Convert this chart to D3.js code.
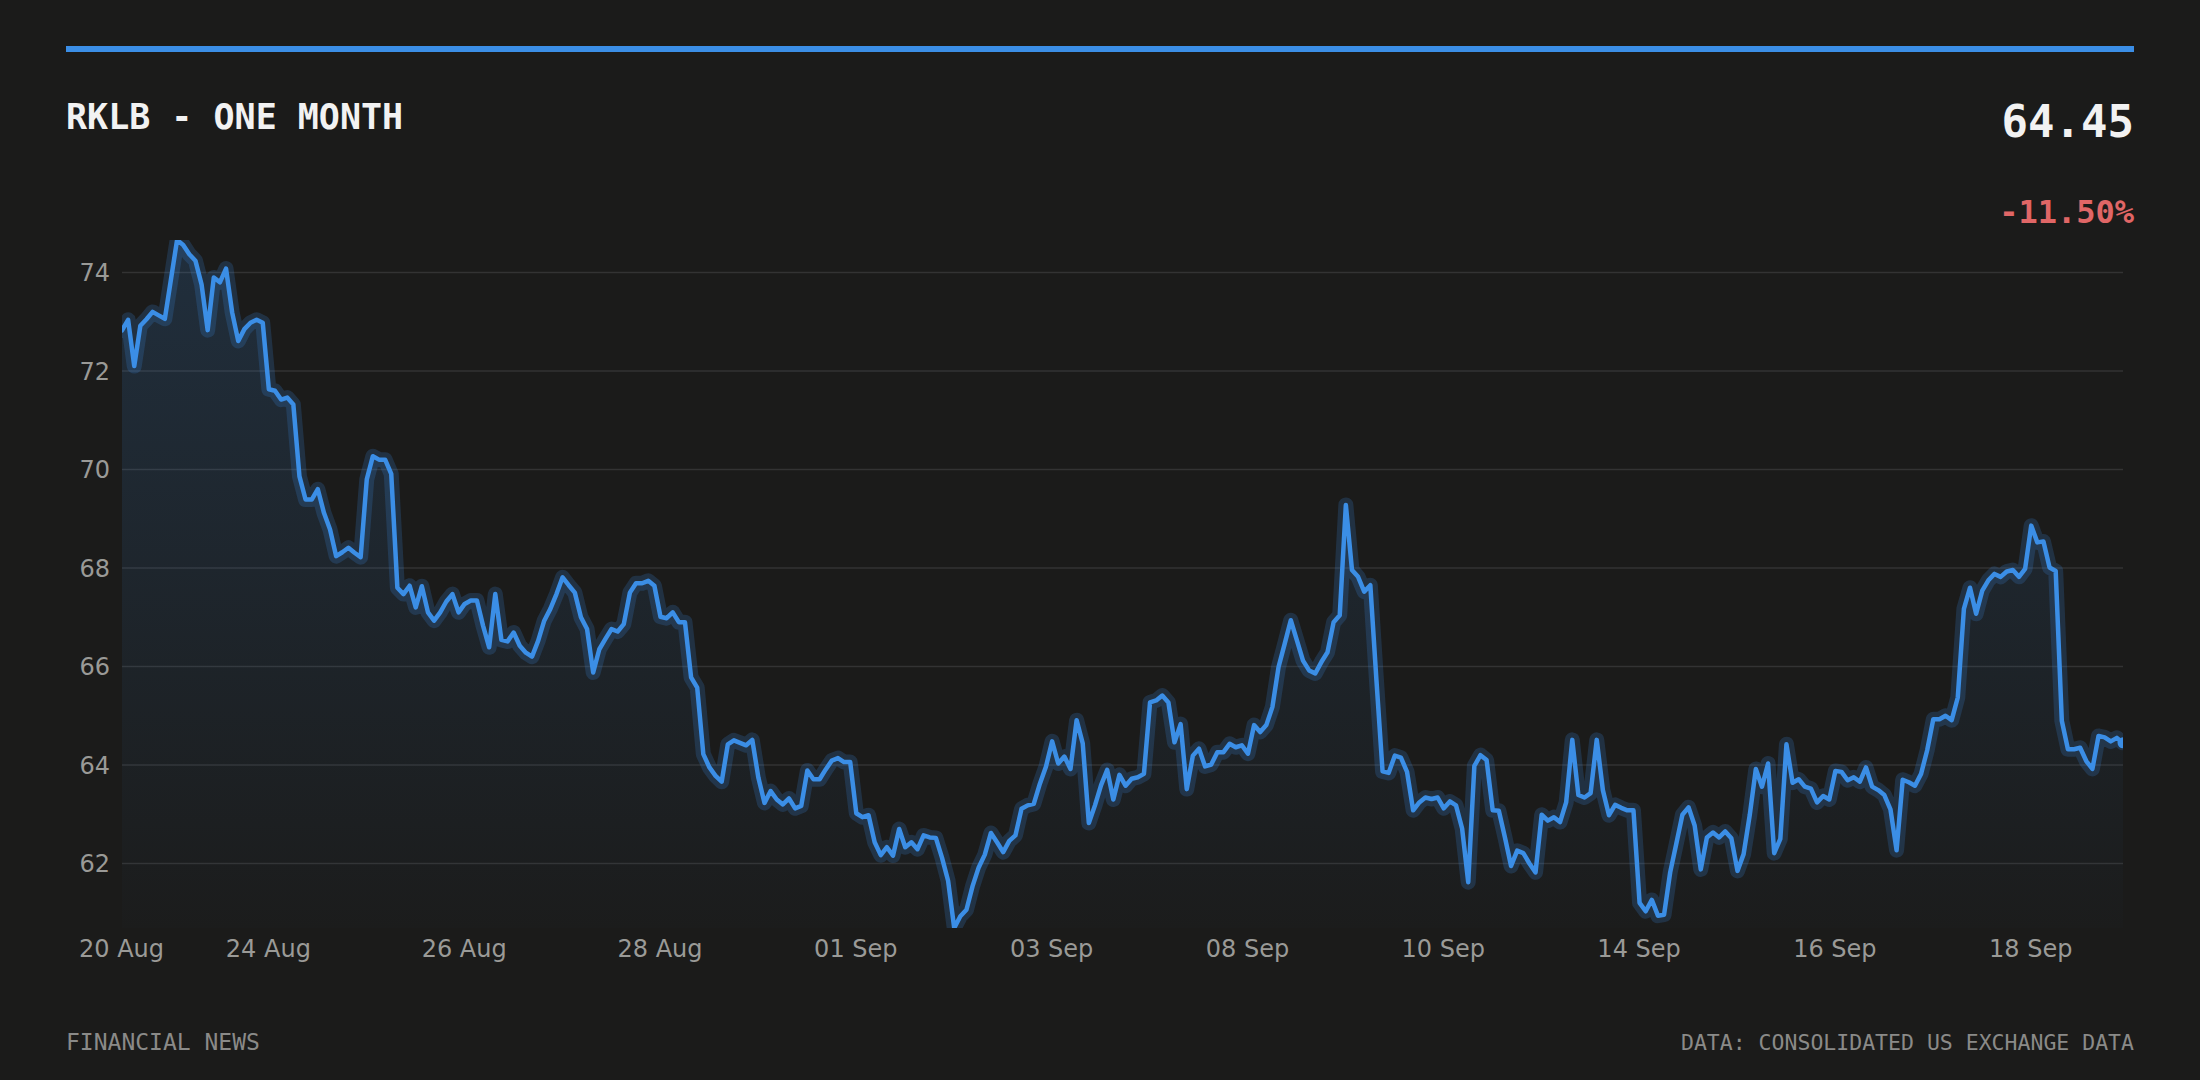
<!DOCTYPE html>
<html>
<head>
<meta charset="utf-8">
<script src="https://cdn.jsdelivr.net/npm/d3@7"></script>
<style>
  html, body { margin: 0; padding: 0; background: #1b1b1a; }
  svg { display: block; }
</style>
</head>
<body>
<svg id="chart" width="2200" height="1080"></svg>
<script>
// RKLB one-month intraday closes, one value per bar
const prices = [
  72.825, 73.04, 72.10, 72.92, 73.05, 73.20, 73.13, 73.06, 73.86, 74.66,
  74.56, 74.37, 74.24, 73.76, 72.83, 73.90, 73.80, 74.08, 73.19, 72.61,
  72.85, 72.98, 73.04, 72.98, 71.63, 71.60, 71.42, 71.46, 71.32, 69.86,
  69.39, 69.39, 69.60, 69.12, 68.78, 68.24, 68.32, 68.41, 68.31, 68.22,
  69.80, 70.27, 70.20, 70.20, 69.91, 67.60, 67.47, 67.64, 67.20, 67.63,
  67.10, 66.93, 67.10, 67.32, 67.47, 67.10, 67.27, 67.34, 67.34, 66.83,
  66.39, 67.47, 66.54, 66.51, 66.69, 66.42, 66.28, 66.20, 66.52, 66.93,
  67.17, 67.47, 67.81, 67.65, 67.50, 67.00, 66.76, 65.88, 66.35, 66.56,
  66.76, 66.71, 66.86, 67.50, 67.69, 67.69, 67.74, 67.64, 67.01, 66.98,
  67.10, 66.90, 66.90, 65.78, 65.57, 64.22, 63.95, 63.78, 63.66, 64.42,
  64.50, 64.45, 64.40, 64.51, 63.74, 63.23, 63.47, 63.30, 63.20, 63.32,
  63.12, 63.17, 63.89, 63.71, 63.71, 63.91, 64.09, 64.14, 64.06, 64.06,
  63.02, 62.94, 62.98, 62.43, 62.17, 62.33, 62.16, 62.70, 62.33, 62.43,
  62.29, 62.57, 62.53, 62.52, 62.12, 61.65, 60.69, 60.93, 61.06, 61.54,
  61.92, 62.18, 62.62, 62.43, 62.23, 62.46, 62.57, 63.11, 63.18, 63.21,
  63.62, 63.97, 64.48, 64.03, 64.17, 63.92, 64.91, 64.44, 62.82, 63.18,
  63.59, 63.90, 63.30, 63.80, 63.58, 63.72, 63.75, 63.82, 65.27, 65.31,
  65.41, 65.27, 64.46, 64.83, 63.51, 64.19, 64.33, 63.97, 64.01, 64.26,
  64.26, 64.43, 64.36, 64.40, 64.23, 64.81, 64.67, 64.81, 65.18, 65.99,
  66.46, 66.94, 66.53, 66.12, 65.92, 65.86, 66.09, 66.29, 66.90, 67.04,
  69.28, 67.96, 67.82, 67.52, 67.65, 65.72, 63.87, 63.84, 64.19, 64.15,
  63.86, 63.08, 63.24, 63.34, 63.31, 63.34, 63.12, 63.26, 63.18, 62.71,
  61.62, 63.98, 64.20, 64.10, 63.08, 63.07, 62.53, 61.95, 62.26, 62.21,
  62.00, 61.82, 62.99, 62.87, 62.94, 62.84, 63.24, 64.51, 63.39, 63.34,
  63.43, 64.51, 63.49, 62.98, 63.19, 63.13, 63.08, 63.08, 61.20, 61.03,
  61.26, 60.94, 60.96, 61.82, 62.40, 62.99, 63.14, 62.77, 61.88, 62.53,
  62.63, 62.53, 62.65, 62.51, 61.85, 62.19, 62.98, 63.92, 63.56, 64.03,
  62.21, 62.50, 64.42, 63.64, 63.71, 63.56, 63.52, 63.24, 63.37, 63.30,
  63.88, 63.86, 63.69, 63.75, 63.66, 63.95, 63.56, 63.49, 63.39, 63.10,
  62.27, 63.70, 63.65, 63.58, 63.82, 64.30, 64.93, 64.93, 65.00, 64.91,
  65.37, 67.17, 67.60, 67.07, 67.54, 67.75, 67.88, 67.82, 67.93, 67.96,
  67.82, 67.98, 68.86, 68.52, 68.54, 68.01, 67.94, 64.90, 64.32, 64.32,
  64.35, 64.08, 63.92, 64.59, 64.56, 64.48, 64.55, 64.45
];

// x-axis labels and the bar index they sit on
const tickIndex  = [0, 24, 56, 88, 120, 152, 184, 216, 248, 280, 312];
const tickLabels = ['20 Aug', '24 Aug', '26 Aug', '28 Aug', '01 Sep', '03 Sep',
                    '08 Sep', '10 Sep', '14 Sep', '16 Sep', '18 Sep'];
const yTicks = [62, 64, 66, 68, 70, 72, 74];

const ticker = 'RKLB';
const period = 'ONE MONTH';
const lastPrice = prices[prices.length - 1];
const changePct = (lastPrice / prices[0] - 1) * 100;

const W = 2200, H = 1080;
const left = 66, right = 2134;
const plot = { x0: 122, x1: 2123, y0: 240, y1: 928 };

const BLUE = '#3b8ee6';
const MONO = '"DejaVu Sans Mono", monospace';
const SANS = '"DejaVu Sans", sans-serif';

const svg = d3.select('#chart');

svg.append('rect').attr('width', W).attr('height', H).attr('fill', '#1b1b1a');

// top accent bar
svg.append('rect')
  .attr('x', left).attr('y', 46)
  .attr('width', right - left).attr('height', 6)
  .attr('fill', BLUE);

// header
svg.append('text')
  .attr('x', left).attr('y', 129)
  .attr('fill', '#f2f2f2').attr('font-family', MONO)
  .attr('font-size', 35).attr('font-weight', 700)
  .text(`${ticker} - ${period}`);

svg.append('text')
  .attr('x', right).attr('y', 137)
  .attr('text-anchor', 'end')
  .attr('fill', '#f2f2f2').attr('font-family', MONO)
  .attr('font-size', 44).attr('font-weight', 700)
  .text(lastPrice.toFixed(2));

svg.append('text')
  .attr('x', right).attr('y', 223)
  .attr('text-anchor', 'end')
  .attr('fill', '#e06666').attr('font-family', MONO)
  .attr('font-size', 32).attr('font-weight', 700)
  .text((changePct >= 0 ? '+' : '') + changePct.toFixed(2) + '%');

// scales
const x = d3.scaleLinear().domain([0, prices.length - 1]).range([plot.x0, plot.x1]);
const y = d3.scaleLinear().domain(d3.extent(prices)).range([plot.y1, plot.y0]);

// defs: clip + area gradient
const defs = svg.append('defs');
defs.append('clipPath').attr('id', 'plot-clip')
  .append('rect')
  .attr('x', plot.x0).attr('y', plot.y0)
  .attr('width', plot.x1 - plot.x0).attr('height', plot.y1 - plot.y0);

const grad = defs.append('linearGradient')
  .attr('id', 'area-grad')
  .attr('gradientUnits', 'userSpaceOnUse')
  .attr('x1', 0).attr('x2', 0).attr('y1', plot.y0).attr('y2', plot.y1);
grad.append('stop').attr('offset', '0%').attr('stop-color', BLUE).attr('stop-opacity', 0.17);
grad.append('stop').attr('offset', '100%').attr('stop-color', BLUE).attr('stop-opacity', 0.01);

// gridlines
svg.append('g').attr('class', 'grid')
  .selectAll('line').data(yTicks).join('line')
  .attr('x1', plot.x0).attr('x2', plot.x1)
  .attr('y1', d => y(d)).attr('y2', d => y(d))
  .attr('stroke', '#333333').attr('stroke-width', 1.5);

// y axis labels
const yAxis = svg.append('g')
  .attr('transform', `translate(110,0)`)
  .call(d3.axisLeft(y).tickValues(yTicks).tickSize(0).tickPadding(0));
yAxis.select('.domain').remove();
yAxis.selectAll('text')
  .attr('x', 0).attr('dy', '0.35em')
  .attr('fill', '#9a9a97').attr('font-family', SANS).attr('font-size', 24);

// x axis labels
const xAxis = svg.append('g')
  .attr('transform', `translate(-1,957)`)
  .call(d3.axisBottom(x).tickValues(tickIndex)
    .tickFormat((d, i) => tickLabels[i]).tickSize(0).tickPadding(0));
xAxis.select('.domain').remove();
xAxis.selectAll('text')
  .attr('y', 0).attr('dy', 0)
  .attr('fill', '#9a9a97').attr('font-family', SANS).attr('font-size', 24);

// area + line
const chart = svg.append('g').attr('clip-path', 'url(#plot-clip)');

const area = d3.area()
  .x((d, i) => x(i))
  .y0(plot.y1)
  .y1(d => y(d));

const line = d3.line()
  .x((d, i) => x(i))
  .y(d => y(d));

chart.append('path')
  .datum(prices)
  .attr('d', area)
  .attr('fill', 'url(#area-grad)');

// soft glow under the line
chart.append('path')
  .datum(prices)
  .attr('d', line)
  .attr('fill', 'none')
  .attr('stroke', BLUE).attr('stroke-opacity', 0.2)
  .attr('stroke-width', 15)
  .attr('stroke-linejoin', 'round').attr('stroke-linecap', 'round');

chart.append('path')
  .datum(prices)
  .attr('d', line)
  .attr('fill', 'none')
  .attr('stroke', BLUE)
  .attr('stroke-width', 4.5)
  .attr('stroke-linejoin', 'round').attr('stroke-linecap', 'round');

// last-price dot
chart.append('circle')
  .attr('cx', x(prices.length - 1)).attr('cy', y(lastPrice))
  .attr('r', 5.5).attr('fill', BLUE);

// footer
svg.append('text')
  .attr('x', left).attr('y', 1050)
  .attr('fill', '#8a8a88').attr('font-family', MONO).attr('font-size', 23)
  .text('FINANCIAL NEWS');

svg.append('text')
  .attr('x', right).attr('y', 1050)
  .attr('text-anchor', 'end')
  .attr('fill', '#8a8a88').attr('font-family', MONO).attr('font-size', 21.5)
  .text('DATA: CONSOLIDATED US EXCHANGE DATA');
</script>
</body>
</html>
